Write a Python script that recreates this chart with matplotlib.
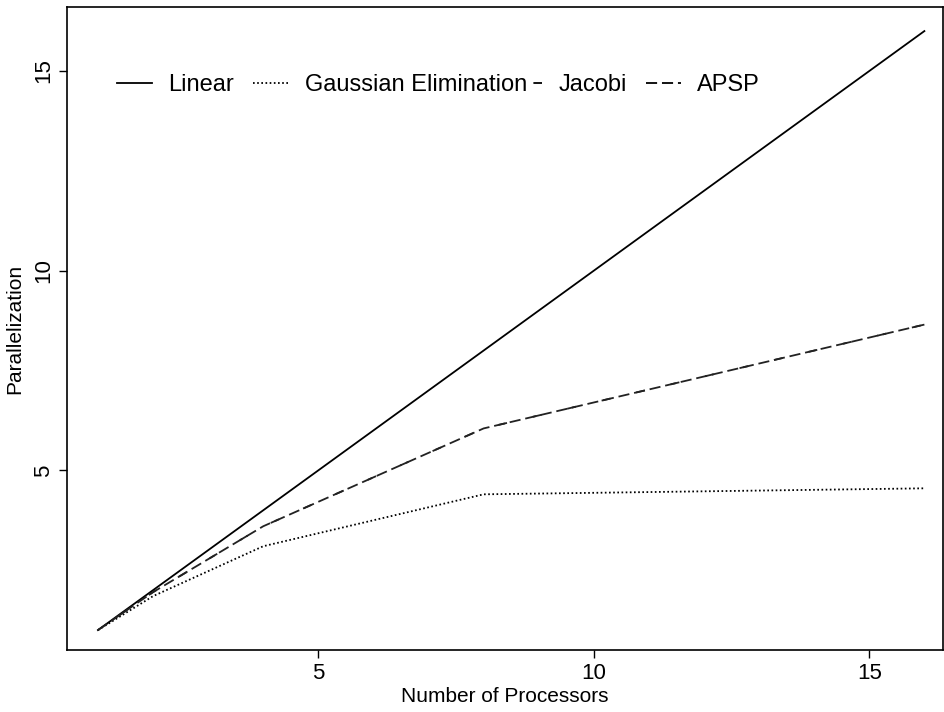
import matplotlib
matplotlib.use("Agg")
import matplotlib.pyplot as plt
from matplotlib.lines import Line2D

plt.rcParams['font.family'] = ['Liberation Sans', 'DejaVu Sans']
plt.rcParams['lines.scale_dashes'] = False

# processors vs. parallelization (speedup)
processors = [1, 2, 4, 8, 16]
linear = [1, 2, 4, 8, 16]
gaussian = [1, 1.85, 3.1, 4.4, 4.55]
jacobi = [1, 1.95, 3.6, 6.05, 8.65]
apsp = [1, 1.95, 3.6, 6.05, 8.65]

labels = ['Linear', 'Gaussian Elimination', 'Jacobi', 'APSP']
styles = ['-', (0, (1.2, 1.8)), (6.5, (6.5, 19)), (0, (8, 3.5))]

fig = plt.figure(figsize=(9.45, 7.12), dpi=100)
ax = fig.add_axes([0.071, 0.087, 0.927, 0.903])

ax.plot(processors, linear, color='black', lw=1.3, linestyle=styles[0])
ax.plot(processors, gaussian, color='black', lw=1.3, linestyle=styles[1])
ax.plot(processors, jacobi, color='#222222', lw=1.3, linestyle=styles[2])
ax.plot(processors, apsp, color='#222222', lw=1.3, linestyle=styles[3])

ax.set_xlim(0.44, 16.34)
ax.set_ylim(0.5, 16.6)
ax.set_xticks([5, 10, 15])
ax.set_yticks([5, 10, 15])
ax.tick_params(axis='both', direction='out', length=6, width=1, labelsize=16)
ax.tick_params(axis='y', labelrotation=90)
for lbl in ax.get_yticklabels():
    lbl.set_va('center')

for s in ax.spines.values():
    s.set_linewidth(1.2)

ax.set_xlabel('Number of Processors', fontsize=15, labelpad=2)
ax.set_ylabel('Parallelization', fontsize=15, labelpad=6)

# legend keys as in the original: two groups, the Jacobi key tucked under "Elimination"
proxies = [Line2D([], [], color='black', lw=1.3, linestyle=st) for st in styles]
leg_kw = dict(loc='center left', ncol=2, frameon=False, fontsize=17,
              handlelength=1.48, handletextpad=0.7, columnspacing=0.8,
              borderpad=0, borderaxespad=0, bbox_transform=fig.transFigure)
leg1 = fig.legend(proxies[:2], labels[:2], bbox_to_anchor=(117 / 945, 1 - 85 / 712), **leg_kw)
leg2 = fig.legend(proxies[2:], labels[2:], bbox_to_anchor=(507 / 945, 1 - 85 / 712), **leg_kw)

fig.savefig('out.png', dpi=100)
